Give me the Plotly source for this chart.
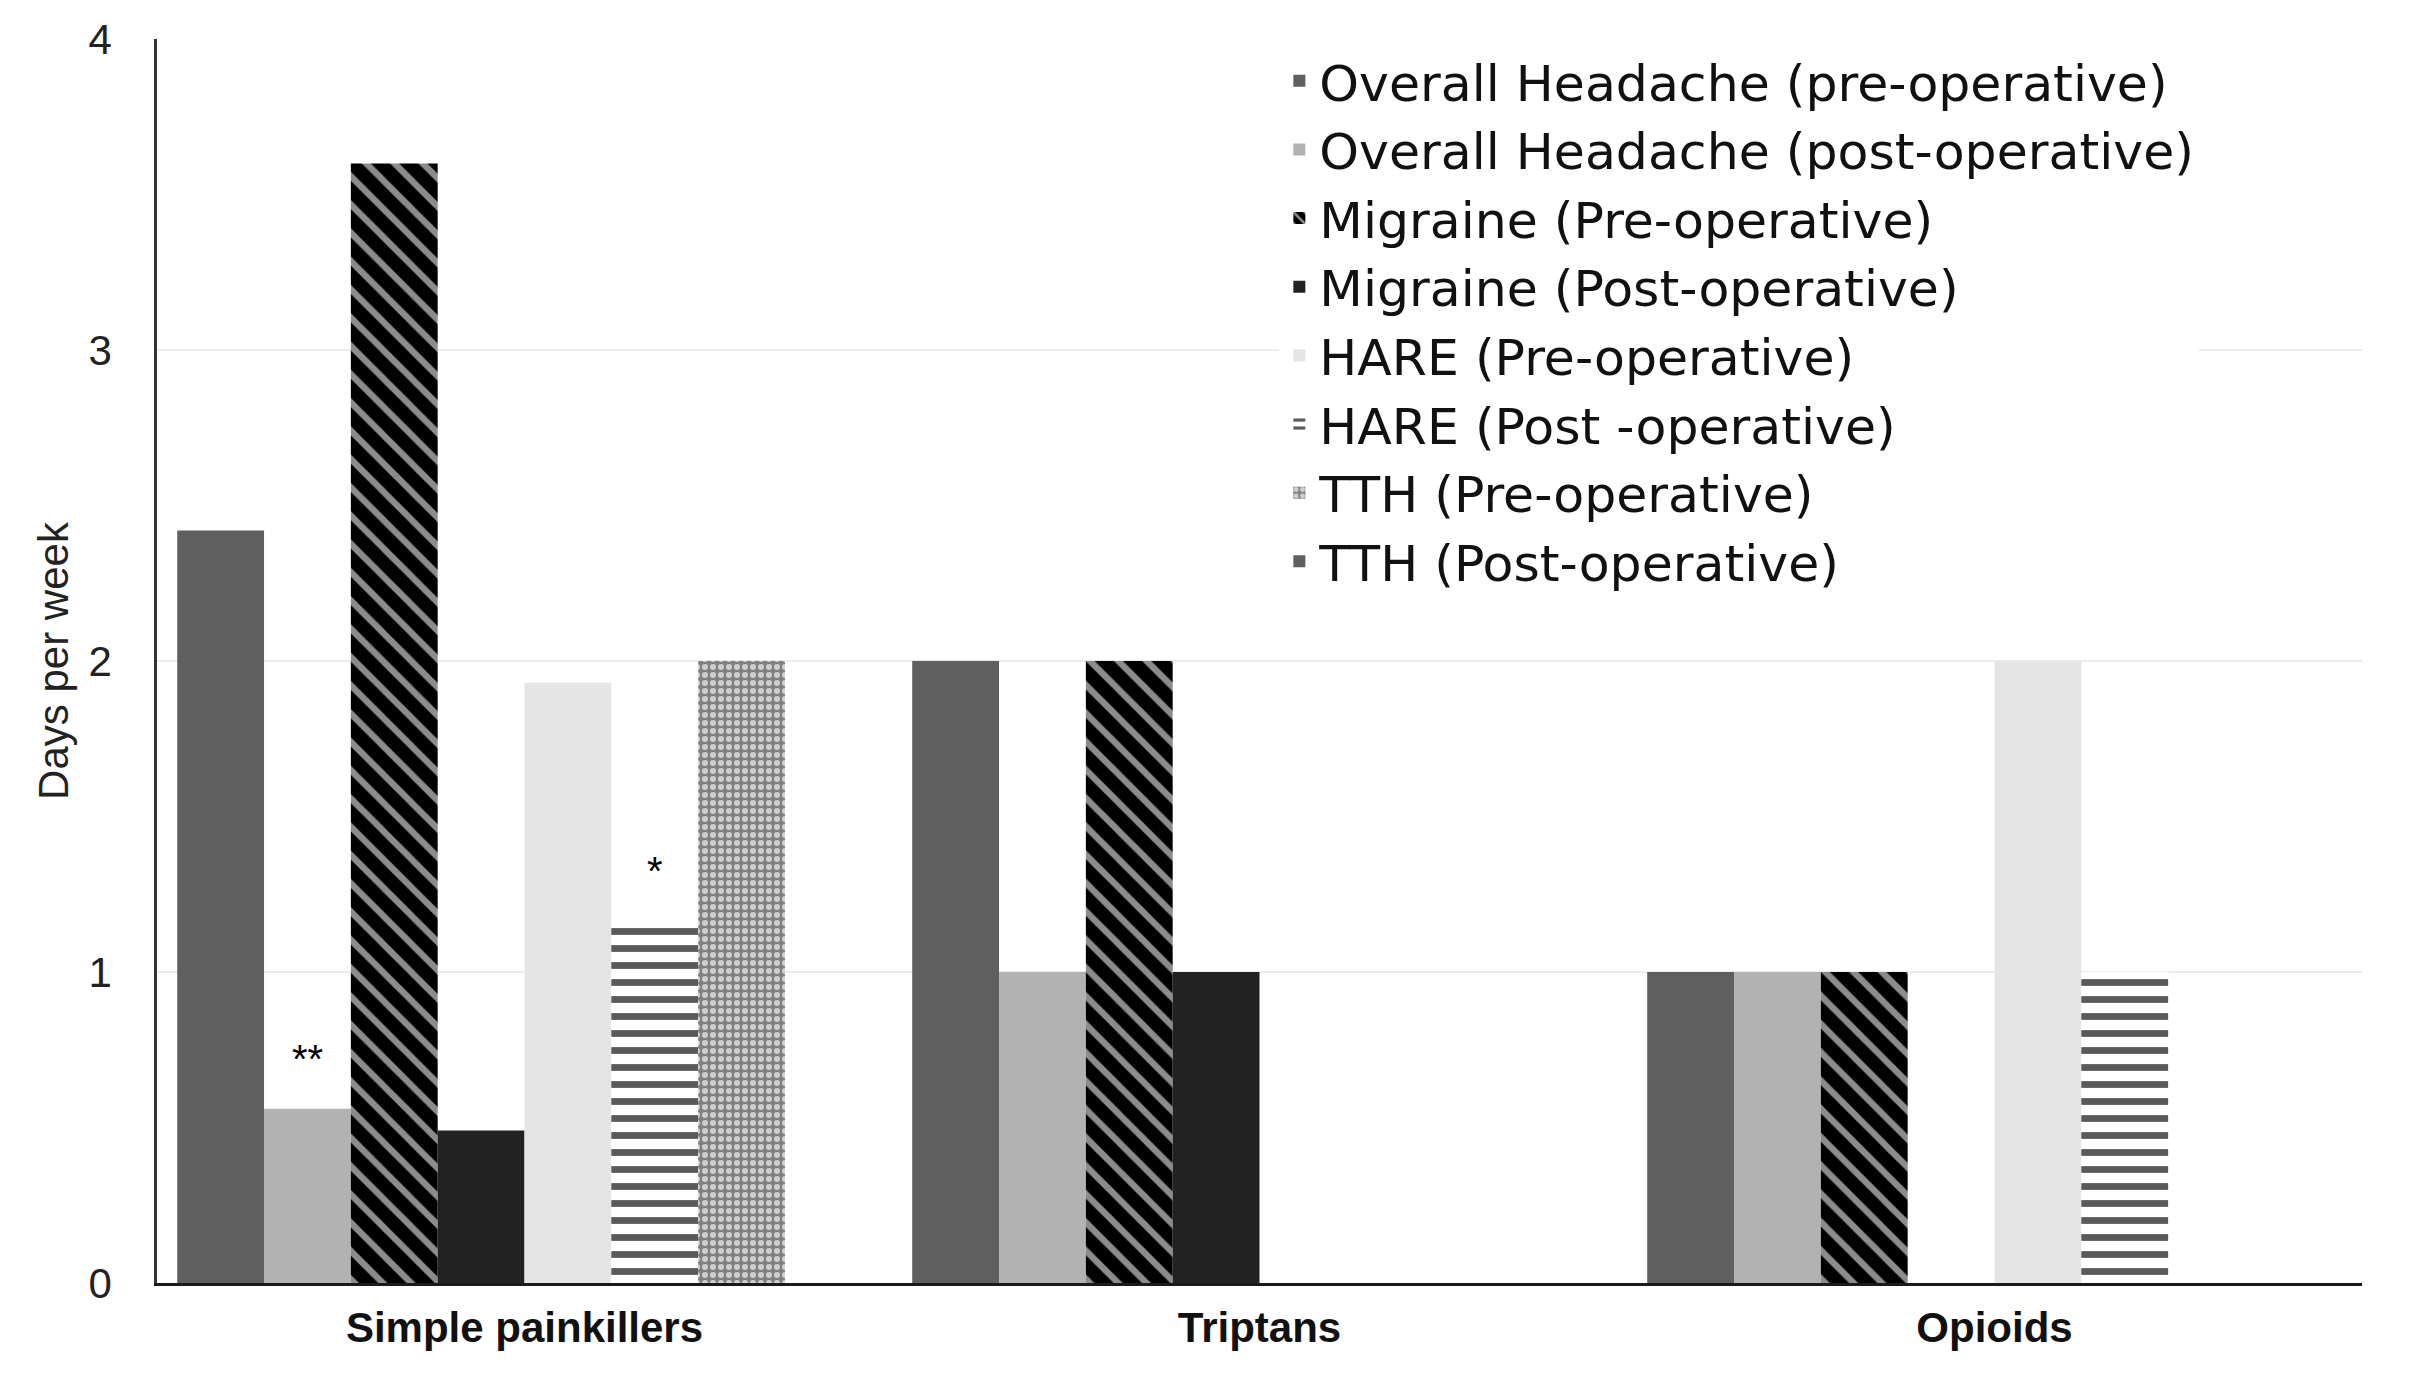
import plotly.graph_objects as go

# ---- data ----
categories = ["Simple painkillers", "Triptans", "Opioids"]
series_names = [
    "Overall Headache (pre-operative)",
    "Overall Headache (post-operative)",
    "Migraine (Pre-operative)",
    "Migraine (Post-operative)",
    "HARE (Pre-operative)",
    "HARE (Post -operative)",
    "TTH (Pre-operative)",
    "TTH (Post-operative)",
]
overall_pre = [2.42, 2.0, 1.0]
overall_post = [0.56, 1.0, 1.0]
migraine_pre = [3.6, 2.0, 1.0]
migraine_post = [0.49, 1.0, 0.0]
hare_pre = [1.93, 0.0, 2.0]
hare_post = [1.165, 0.0, 1.0]
tth_pre = [2.0, 0.0, 0.0]
tth_post = [0.0, 0.0, 0.0]
overall_post_sig = ["**", "", ""]
hare_post_sig = ["*", "", ""]
y_ticks = [0, 1, 2, 3, 4]

values = [overall_pre, overall_post, migraine_pre, migraine_post,
          hare_pre, hare_post, tth_pre, tth_post]
significance = {1: overall_post_sig, 5: hare_post_sig}

# ---- styles ----
FONT = "Liberation Sans, Arial, Helvetica, sans-serif"
LEGEND_FONT = "DejaVu Sans, Liberation Sans, Arial, sans-serif"
BARGAP = 0.055
styles = [
    dict(color="#5f5f5f"),
    dict(color="#b2b2b2"),
    dict(color="#000000", pattern=dict(shape="\\", fgcolor="#8c8c8c", bgcolor="#000000",
                                       size=20, solidity=0.32, fillmode="replace")),
    dict(color="#222222"),
    dict(color="#e5e5e5"),
    dict(color="#ffffff", pattern=dict(shape="-", fgcolor="#5a5a5a", bgcolor="#ffffff",
                                       size=17, solidity=0.4, fillmode="replace")),
    dict(color="#808080", pattern=dict(shape=".", fgcolor="#cfcfcf", bgcolor="#808080",
                                       size=8, solidity=0.45, fillmode="replace")),
    dict(color="#606060"),
]

fig = go.Figure()
for name, vals, st in zip(series_names, values, styles):
    marker = dict(color=st["color"], line=dict(width=0))
    if "pattern" in st:
        marker["pattern"] = st["pattern"]
    fig.add_trace(go.Bar(x=categories, y=vals, name=name, marker=marker))

# significance markers placed above their bars (slot offset within each group)
n_series = len(series_names)
slot_w = (1 - BARGAP) / n_series
annotations = []
for slot, labels in significance.items():
    for ci, lab in enumerate(labels):
        if lab:
            annotations.append(dict(
                x=ci + (slot - (n_series - 1) / 2) * slot_w, xref="x",
                y=values[slot][ci], yref="y",
                text=lab, showarrow=False, yanchor="bottom", xanchor="center",
                yshift=26,
                font=dict(family=FONT, size=40, color="#000000"),
            ))

fig.update_layout(
    width=2415, height=1379,
    barmode="group", bargap=BARGAP, bargroupgap=0,
    paper_bgcolor="white", plot_bgcolor="white",
    margin=dict(l=149, r=61, t=31, b=104, autoexpand=False),
    font=dict(family=FONT, color="#000000"),
    showlegend=True,
    legend=dict(x=0.509, y=0.998, xanchor="left", yanchor="top",
                bgcolor="white", borderwidth=0,
                font=dict(family=LEGEND_FONT, size=50.5, color="#111111"),
                traceorder="normal"),
    annotations=annotations,
)
fig.update_xaxes(
    showline=True, linecolor="#1a1a1a", linewidth=3,
    showgrid=False, ticks="", ticklabelstandoff=6,
    tickfont=dict(family=FONT, size=42, color="#111111", weight="bold"),
)
fig.update_yaxes(
    range=[0, 4], tickvals=y_ticks, ticktext=[str(v) for v in y_ticks],
    showline=True, linecolor="#333333", linewidth=2.5,
    showgrid=True, gridcolor="#ececec", gridwidth=2,
    zeroline=False, ticks="", ticklabelstandoff=34,
    tickfont=dict(family=FONT, size=42, color="#222222"),
    title=dict(text="Days per week", standoff=7,
               font=dict(family=FONT, size=42, color="#222222")),
)

fig.write_html("out.html")
